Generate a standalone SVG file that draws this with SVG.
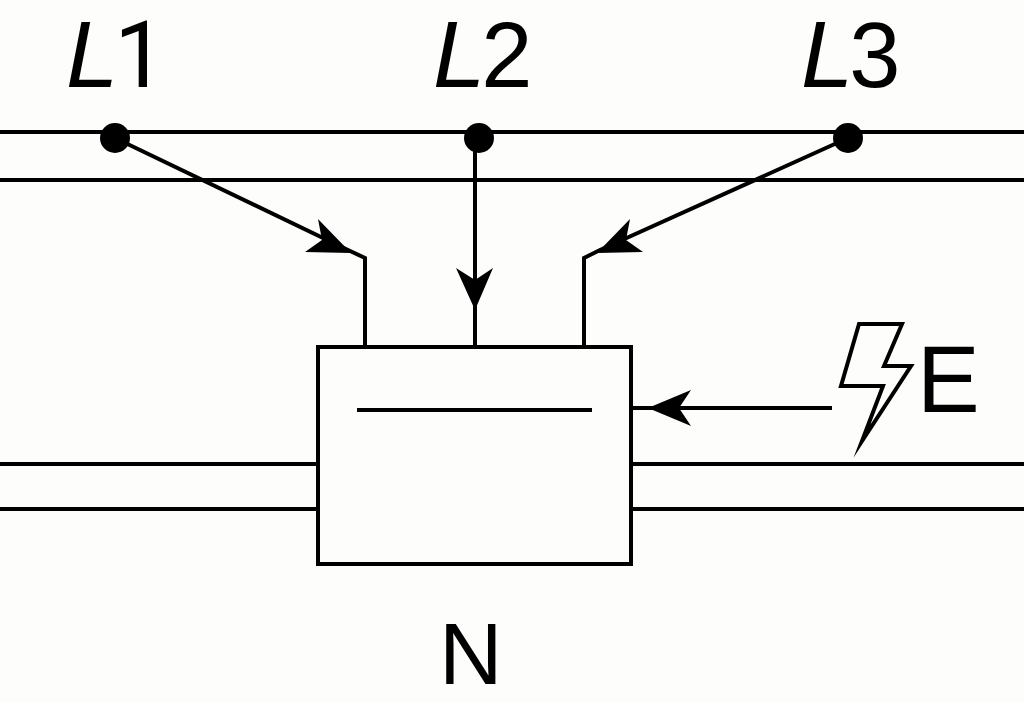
<svg xmlns="http://www.w3.org/2000/svg" width="1024" height="702" viewBox="0 0 1024 702">
<style>
.l{fill:none;stroke:#000;stroke-width:4}
.a{fill:#000;stroke:none}
.t{font-family:"Liberation Sans",Arial,sans-serif;font-size:94px;fill:#000}
.i{font-style:italic}
.d{font-size:92px}
.r{font-family:Roboto,"Liberation Sans",sans-serif}
</style>
<rect width="1024" height="702" fill="#fdfdfb"/>
<g id="connectors">
<path class="l" d="M0 132H1024M0 180H1024M0 464H318M0 509H318M631 464H1024M631 509H1024"/>
<path class="l" d="M115 138L348 250L365 258V347"/>
<path class="l" d="M475 138V347"/>
<path class="l" d="M848 138L600 250L584 258V347"/>
<path class="l" d="M832 408H632"/>
<path class="a" d="M351 253L305 252L322 240L318 219Z"/>
<path class="a" d="M597 253L643 252L626 240L630 219Z"/>
<path class="a" d="M475 310L456 268L475 280L493 268Z"/>
<path class="a" d="M648 408L691 390L679 408L691 426Z"/>
</g>
<g id="node-l1"><circle cx="115" cy="138" r="15" fill="#000"/><text class="t" x="66" y="87"><tspan class="i">L</tspan><tspan class="r d" dx="-4">1</tspan></text></g>
<g id="node-l2"><circle cx="479" cy="138" r="15" fill="#000"/><text class="t" x="433" y="87"><tspan class="i">L</tspan><tspan class="d" dx="-4">2</tspan></text></g>
<g id="node-l3"><circle cx="848" cy="138" r="15" fill="#000"/><text class="t" x="801" y="87"><tspan class="i">L</tspan><tspan class="d" dx="-4">3</tspan></text></g>
<g id="node-box"><rect x="318" y="347" width="313" height="217" fill="none" stroke="#000" stroke-width="4"/><path class="l" d="M357 410H592"/></g>
<g id="node-e"><path fill="none" stroke="#000" stroke-width="4" stroke-miterlimit="20" d="M859 324H902L884 366H911L862 441L883 386H841Z"/><text class="t" x="917" y="412">E</text></g>
<g id="node-n"><text class="t" style="font-size:88px" x="439" y="684">N</text></g>
</svg>
